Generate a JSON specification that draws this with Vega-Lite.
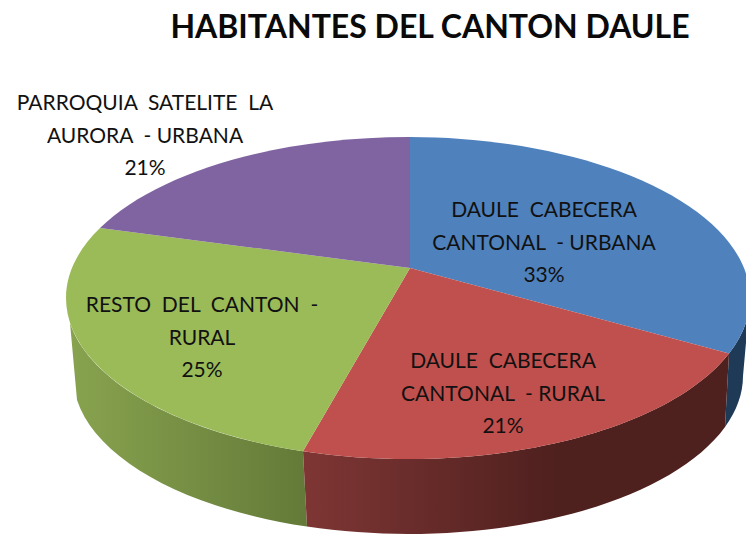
{
"$schema":"https://vega.github.io/schema/vega-lite/v6.json",
"width":746,"height":434,"autosize":{"type":"none"},
"padding":{"top":50,"bottom":50,"left":0,"right":0},
"background":"white",
"config":{"view":{"stroke":null}},
"title":{"text":"HABITANTES DEL CANTON DAULE","font":"Lato","fontWeight":"bold","fontSize":32,"color":"#0a0a0a","anchor":"middle","dx":57,"baseline":"alphabetic","offset":-20},
"data":{"values":[
{"slice":"DAULE CABECERA CANTONAL - URBANA","share":33,"label":"DAULE\u00a0 CABECERA\nCANTONAL\u00a0 - URBANA\n33%"},
{"slice":"DAULE CABECERA CANTONAL - RURAL","share":21,"label":"DAULE\u00a0 CABECERA\nCANTONAL\u00a0 - RURAL\n21%"},
{"slice":"RESTO DEL CANTON - RURAL","share":25,"label":"RESTO\u00a0 DEL\u00a0 CANTON\u00a0 -\nRURAL\n25%"},
{"slice":"PARROQUIA SATELITE LA AURORA - URBANA","share":21,"label":"PARROQUIA\u00a0 SATELITE\u00a0 LA\nAURORA\u00a0 - URBANA\n21%"}
]},
"layer":[
{"transform":[{"filter":"datum.slice==='DAULE CABECERA CANTONAL - URBANA'"}],
"mark":{"type":"point","filled":true,"opacity":1,"size":4,"fill":"#1f3a56","shape":"M356,86.5 A342,161 0 0 0 377,31 L370,109 A335,158 0 0 1 352,160 Z"},"encoding":{}},
{"transform":[{"filter":"datum.slice==='RESTO DEL CANTON - RURAL'"}],
"mark":{"type":"point","filled":true,"opacity":1,"size":4,"fill":{"gradient":"linear","x1":0,"y1":0,"x2":1,"y2":0,"stops":[{"offset":0,"color":"#88A34F"},{"offset":1,"color":"#637A38"}]},"shape":"M-70,184.2 A342,161 0 0 1 -303,56 L-296,133 A335,158 0 0 0 -66,259.6 Z"},"encoding":{}},
{"transform":[{"filter":"datum.slice==='DAULE CABECERA CANTONAL - RURAL'"}],
"mark":{"type":"point","filled":true,"opacity":1,"size":4,"fill":{"gradient":"linear","x1":0,"y1":0,"x2":1,"y2":0,"stops":[{"offset":0,"color":"#7E3634"},{"offset":0.6,"color":"#4E201E"},{"offset":1,"color":"#4E201E"}]},"shape":"M-70,184.2 A342,161 0 0 0 356,86.5 L352,160 A335,158 0 0 1 -66,259.6 Z"},"encoding":{}},
{"mark":{"type":"point","filled":true,"opacity":1,"size":4},
"encoding":{
"color":{"field":"slice","type":"nominal","legend":null,"scale":{"domain":["DAULE CABECERA CANTONAL - URBANA","DAULE CABECERA CANTONAL - RURAL","RESTO DEL CANTON - RURAL","PARROQUIA SATELITE LA AURORA - URBANA"],"range":["#4F81BD","#C0504D","#9BBB59","#8064A2"]}},
"shape":{"field":"slice","type":"nominal","legend":null,"scale":{"domain":["DAULE CABECERA CANTONAL - URBANA","DAULE CABECERA CANTONAL - RURAL","RESTO DEL CANTON - RURAL","PARROQUIA SATELITE LA AURORA - URBANA"],"range":[
"M37,1 L37,-130 A342,161 0 0 1 356,86.5 Z",
"M37,1 L356,86.5 A342,161 0 0 1 -70,184.2 Z",
"M37,1 L-70,184.2 A342,161 0 0 1 -273,-39 Z",
"M37,1 L-273,-39 A342,161 0 0 1 37,-130 Z"]}}
}},
{"transform":[{"filter":"datum.share===33"}],"mark":{"type":"text","font":"Lato","fontSize":21,"color":"#111","lineBreak":"\n","lineHeight":32.5,"align":"center","baseline":"middle","dx":171,"dy":-56},"encoding":{"text":{"field":"label"}}},
{"transform":[{"filter":"datum.slice==='DAULE CABECERA CANTONAL - RURAL'"}],"mark":{"type":"text","font":"Lato","fontSize":21,"color":"#111","lineBreak":"\n","lineHeight":32.5,"align":"center","baseline":"middle","dx":130,"dy":95},"encoding":{"text":{"field":"label"}}},
{"transform":[{"filter":"datum.share===25"}],"mark":{"type":"text","font":"Lato","fontSize":21,"color":"#111","lineBreak":"\n","lineHeight":32.5,"align":"center","baseline":"middle","dx":-171,"dy":39},"encoding":{"text":{"field":"label"}}},
{"transform":[{"filter":"datum.slice==='PARROQUIA SATELITE LA AURORA - URBANA'"}],"mark":{"type":"text","font":"Lato","fontSize":21,"color":"#111","lineBreak":"\n","lineHeight":32.5,"align":"center","baseline":"middle","dx":-228,"dy":-163},"encoding":{"text":{"field":"label"}}}
]
}
